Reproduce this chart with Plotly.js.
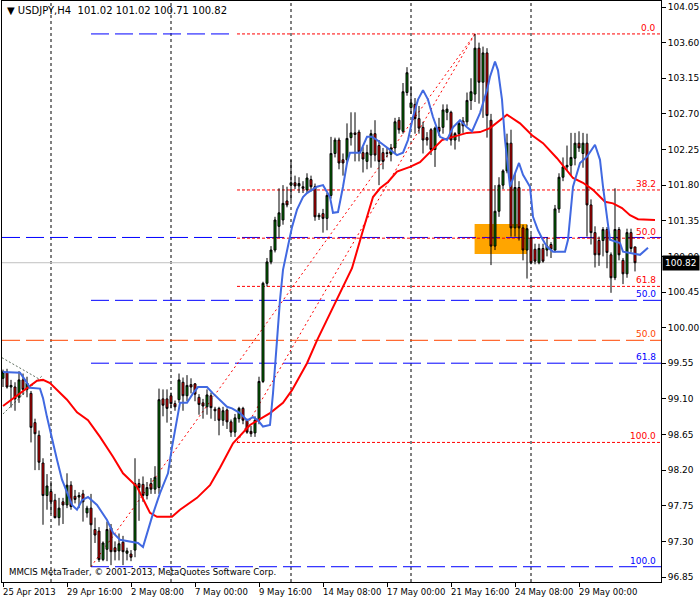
<!DOCTYPE html>
<html><head><meta charset="utf-8">
<script src="https://cdn.plot.ly/plotly-3.0.1.min.js"></script>
<style>html,body{margin:0;padding:0;background:#fff;}#chart{width:700px;height:600px;}</style>
</head><body><div id="chart"></div>
<script>
// ---- candle data (USDJPY H4, bar index 0 = 25 Apr 2013 00:00) ----
const open  = [99.36,99.44,99.25,99.25,99.12,99.34,99.22,99.17,98.80,98.64,98.29,97.88,97.93,97.82,97.60,97.80,97.76,98.01,97.87,97.86,97.90,97.66,97.72,97.45,97.43,97.07,97.20,97.47,97.22,97.18,97.29,97.15,97.14,97.19,98.03,98.02,97.88,98.03,97.96,97.98,99.10,99.10,99.14,99.04,99.09,99.31,99.14,99.28,99.29,99.12,99.05,99.00,99.14,98.97,98.98,98.83,98.96,98.81,98.68,98.85,98.98,98.83,98.69,98.67,98.83,99.32,100.56,100.83,100.98,101.28,101.36,101.60,101.80,101.83,101.79,101.78,101.74,101.87,101.78,101.40,101.44,101.38,101.67,102.20,102.37,102.12,102.12,102.40,102.46,102.47,102.21,102.10,102.18,102.45,102.30,102.21,102.21,102.19,102.27,102.62,102.48,102.97,102.78,102.82,102.64,102.53,102.40,102.50,102.25,102.53,102.53,102.72,102.72,102.37,102.45,102.61,102.60,102.87,102.95,103.53,103.10,103.47,102.62,101.03,101.47,101.80,101.98,102.33,101.26,101.77,101.26,100.98,101.13,100.99,100.82,101.00,100.98,101.05,100.98,101.50,101.90,102.03,102.05,102.14,102.33,102.20,102.33,101.55,101.20,101.10,101.10,101.24,100.92,100.63,101.24,100.85,100.68,101.20,101.02];
const high  = [99.47,99.48,99.34,99.31,99.45,99.42,99.38,99.20,98.85,98.70,98.35,98.15,98.06,97.90,97.85,97.85,98.16,98.06,97.95,97.92,97.95,97.75,97.90,97.60,97.48,97.30,97.55,97.52,97.30,97.40,97.37,97.22,97.19,98.35,98.09,98.12,98.05,98.10,98.25,99.23,99.22,99.22,99.18,99.08,99.42,99.37,99.40,99.36,99.30,99.16,99.10,99.22,99.18,99.00,99.00,99.00,98.98,98.84,98.91,99.00,99.00,98.85,98.76,98.88,99.38,100.58,100.88,101.03,101.40,101.76,101.80,101.78,102.12,101.92,101.90,101.85,101.95,101.92,101.82,101.45,101.50,101.70,102.41,102.40,102.40,102.20,102.58,102.72,102.72,102.50,102.28,102.31,102.50,102.62,102.37,102.27,102.27,102.32,102.65,102.66,103.09,103.29,103.05,102.90,102.80,102.60,102.47,102.52,102.54,102.65,102.82,102.82,102.74,102.47,102.60,102.66,102.97,103.15,103.71,103.60,103.55,103.53,102.70,101.80,101.90,102.00,102.45,102.50,101.95,101.85,101.30,101.30,101.18,101.06,101.06,101.06,101.14,101.08,101.55,101.95,102.15,102.30,102.46,102.46,102.48,102.46,102.45,101.62,101.28,101.15,101.27,101.27,100.95,101.76,101.27,100.88,101.25,101.25,101.02];
const low   = [99.25,99.23,98.99,98.95,99.05,99.15,99.12,98.55,98.20,98.20,97.51,97.70,97.65,97.59,97.50,97.52,97.72,97.70,97.78,97.72,97.55,97.60,96.98,97.28,97.04,97.05,97.05,97.00,97.06,97.06,97.00,97.06,97.05,97.10,97.56,97.80,97.83,97.90,97.90,97.90,98.88,98.80,98.98,98.95,99.05,98.95,99.07,99.17,99.07,98.90,98.85,98.90,98.85,98.82,98.64,98.76,98.72,98.62,98.62,98.80,98.78,98.66,98.62,98.62,98.78,99.30,100.52,100.80,100.95,101.14,101.30,101.52,101.60,101.75,101.70,101.70,101.70,101.72,101.35,101.36,101.20,101.23,101.63,102.15,102.00,101.92,102.07,102.30,102.10,102.10,101.96,102.00,102.02,102.10,101.80,102.00,102.15,102.10,102.20,102.45,102.45,102.93,102.70,102.45,102.45,102.20,102.30,102.18,102.03,102.42,102.45,102.62,102.30,102.25,102.35,102.46,102.55,102.75,102.85,102.83,102.65,102.40,100.79,100.98,101.40,101.75,101.95,101.15,101.15,101.10,100.85,100.62,100.80,100.80,100.80,100.82,100.90,100.88,100.95,101.45,101.85,101.98,101.92,102.05,102.22,102.02,101.15,101.05,100.76,100.78,100.90,100.75,100.44,100.60,100.85,100.55,100.63,100.95,100.71];
const close = [99.44,99.25,99.27,99.10,99.34,99.22,99.30,98.74,98.66,98.30,97.88,98.00,97.80,97.60,97.72,97.76,98.01,97.74,97.83,97.88,97.80,97.72,97.51,97.38,97.07,97.28,97.45,97.17,97.17,97.27,97.17,97.18,97.10,98.03,97.98,97.88,97.98,97.96,98.11,99.09,99.02,98.98,99.04,99.00,99.34,99.14,99.27,99.25,99.16,99.03,99.01,99.15,98.99,98.95,98.83,98.95,98.81,98.68,98.86,98.98,98.83,98.68,98.66,98.83,99.32,100.56,100.83,100.98,101.36,101.45,101.57,101.55,101.83,101.79,101.82,101.76,101.89,101.78,101.40,101.42,101.38,101.67,102.20,102.37,102.08,102.08,102.39,102.46,102.44,102.22,102.13,102.21,102.45,102.18,102.10,102.10,102.20,102.27,102.60,102.50,102.98,103.22,102.84,102.64,102.52,102.37,102.37,102.25,102.52,102.48,102.75,102.76,102.37,102.45,102.58,102.55,102.87,102.98,103.53,103.10,103.47,102.68,101.03,101.47,101.80,101.98,102.33,101.26,101.77,101.26,100.98,101.25,100.82,100.84,101.00,100.84,101.03,100.99,101.50,101.90,102.03,102.05,102.15,102.33,102.27,102.33,101.55,101.20,100.92,100.92,101.24,100.95,100.63,101.24,100.92,100.68,101.20,101.00,100.82];

// ---- moving averages (bar position, price) ----
const maRedX = [0,8.5,10,11.75,16,18.5,21.25,24.25,27.5,30,33.5,36.75,38.5,42.25,44.25,48.5,51.75,54.25,57.5,61.75,66.75,68.75,70,72.25,76,78.5,81,83.5,87.25,90,92.5,94.25,96.25,98.5,101.75,104.25,106.75,109.75,112.5,116,119.25,121.75,126,129.25,132.25,135,138.5,141,142.5,145,147.5,150.5,152.5,154.75,156.75,158.75,163];
const maRedY = [99.01,99.33,99.34,99.30,99.09,98.93,98.83,98.62,98.37,98.16,97.99,97.66,97.61,97.61,97.70,97.85,98.01,98.23,98.54,98.77,98.92,99.00,99.05,99.21,99.55,99.84,100.10,100.35,100.75,101.23,101.65,101.76,101.84,101.97,102.03,102.09,102.22,102.37,102.41,102.46,102.47,102.52,102.69,102.58,102.43,102.33,102.14,101.99,101.89,101.83,101.74,101.59,101.57,101.51,101.42,101.37,101.36];
const maBlueX = [0,4.25,5.5,6.75,9.25,10,11,12.25,13.5,14.75,16,17.25,18.5,19.75,21.25,23.5,26,27.5,29.25,33.75,35,36,37.25,39.25,41.25,42.25,43.5,44.25,46,47.5,48.75,51,52.5,54.25,56,57.25,59.25,61,62.5,63.75,65,66.75,67.5,68.5,69.25,70,71,72.25,73.5,75,76,78.5,80,81.75,82.5,83.75,85,86,86.75,89.25,91,92.25,93.5,96,98.5,100,101.25,102.5,103.75,105,106.25,107.5,109.25,111,112.5,114.25,116,117.25,119.25,121,121.75,123,123.75,124.75,125.5,126.75,128,129,130,131.75,132.5,133.75,134.75,136,137.5,140.5,141.25,142.5,144.25,146,148,149.25,150,151,151.75,154.25,155,159.25,160.5,161.25];
const maBlueY = [99.44,99.43,99.34,99.24,99.23,99.11,98.87,98.58,98.33,98.08,97.91,97.76,97.70,97.82,97.86,97.76,97.57,97.41,97.32,97.28,97.23,97.41,97.61,97.91,98.16,98.49,98.83,99.05,99.05,99.17,99.25,99.25,99.17,99.09,99.00,98.98,98.92,98.83,98.87,98.83,98.75,98.77,99.17,99.84,100.35,100.73,100.98,101.27,101.49,101.65,101.70,101.78,101.80,101.65,101.45,101.46,101.78,102.08,102.21,102.21,102.41,102.41,102.37,102.27,102.18,102.21,102.37,102.66,102.88,103.00,102.88,102.66,102.41,102.37,102.53,102.62,102.53,102.48,102.71,103.00,103.17,103.36,103.25,102.88,102.37,101.78,101.95,102.08,101.93,101.78,101.40,101.23,101.13,101.02,100.96,100.96,101.11,101.78,102.08,102.16,102.31,102.12,101.78,101.40,101.11,101.07,100.96,100.92,100.98,101.01];

// ---- time axis ----
const tickBars   = [0,16,32,48,64,80,96,112,128,144];
const tickLabels = ['25 Apr 2013','29 Apr 16:00','2 May 08:00','7 May 00:00','9 May 16:00','14 May 08:00','17 May 00:00','21 May 16:00','24 May 08:00','29 May 00:00'];
const separatorBars = [12,42,72,102,132];
const priceTicks = [96.85,97.30,97.75,98.20,98.65,99.10,99.55,100.00,100.45,100.90,101.35,101.80,102.25,102.70,103.15,103.60,104.05];

// ---- objects ----
const lastPrice = 100.82;
const fibLevels = [0, 38.2, 50, 61.8, 100];
const blueFibStart = 22, blueFibEnd = 118, blueFibLow = 96.98, blueFibHigh = 103.71;
const redFibStart = 58.5, redFibEnd = 118, redFibLow = 98.55, redFibHigh = 103.71;
const orangeFib50 = 99.84;
const zoneBars = [117.9, 131];
const zonePrices = [100.93, 101.31];
const greyLineA = [[-0.25, 99.62],[9.75, 99.33]];
const greyLineB = [[0.0, 98.91],[9.75, 99.39]];
const titleText = 'USDJPY,H4\u00a0\u00a0101.02 101.02 100.71 100.82';
const copyright = 'MMCIS MetaTrader, © 2001-2013, MetaQuotes Software Corp.';

const X0 = -0.25, X1 = 164.5;
const bars = open.map((_, i) => i);
const FONT = 'DejaVu Sans, Verdana, sans-serif';

const traces = [
  {type:'candlestick', x:bars, open:open, high:high, low:low, close:close,
   increasing:{line:{color:'#000000', width:1}, fillcolor:'#008000'},
   decreasing:{line:{color:'#000000', width:1}, fillcolor:'#ff0000'},
   whiskerwidth:0, hoverinfo:'skip', showlegend:false},
  {type:'scatter', mode:'lines', x:maRedX, y:maRedY, line:{color:'#ff0000', width:2}, hoverinfo:'skip', showlegend:false},
  {type:'scatter', mode:'lines', x:maBlueX, y:maBlueY, line:{color:'#4169e1', width:2}, hoverinfo:'skip', showlegend:false}
];

const shapes = [];
const annotations = [];
function hline(x0, x1, y, color, dash) {
  shapes.push({type:'line', xref:'x', yref:'y', x0:x0, x1:x1, y0:y, y1:y, layer:'below', line:{color:color, width:1, dash:dash}});
}
function label(y, text, color) {
  annotations.push({xref:'paper', yref:'y', x:1, y:y, xshift:-3, yshift:-1, xanchor:'right', yanchor:'bottom', text:text, showarrow:false, font:{family:FONT, size:9, color:color}});
}
// zone
shapes.push({type:'rect', xref:'x', yref:'y', x0:zoneBars[0], x1:zoneBars[1], y0:zonePrices[0], y1:zonePrices[1], layer:'below', fillcolor:'#ffa500', line:{width:0}});
// separators
separatorBars.forEach(b => shapes.push({type:'line', xref:'x', yref:'paper', x0:b, x1:b, y0:0, y1:1, layer:'below', line:{color:'#000000', width:1, dash:'3px,3px'}}));
// current price line
hline(X0, X1, lastPrice, '#c0c0c0', 'solid');
// orange fib 50
hline(X0, X1, orangeFib50, '#ff4500', '18px,6px');
label(orangeFib50, '50.0', '#ff4500');
// blue fib
fibLevels.forEach(l => {
  const y = blueFibHigh - (blueFibHigh - blueFibLow) * l / 100;
  let x0 = blueFibStart, x1 = X1;
  if (l === 0) x1 = 56.5;
  if (l === 38.2) x0 = X0;
  hline(x0, x1, y, '#0000ff', '18px,6px');
  if (l >= 50) label(y, l.toFixed(1), '#0000ff');
});
// red fib
fibLevels.forEach(l => {
  const y = redFibHigh - (redFibHigh - redFibLow) * l / 100;
  hline(redFibStart, X1, y, '#ff0000', '3px,2px');
  label(y, l.toFixed(1), '#ff0000');
});
// fib trend lines
shapes.push({type:'line', xref:'x', yref:'y', x0:blueFibStart, y0:blueFibLow, x1:blueFibEnd, y1:blueFibHigh, layer:'below', line:{color:'#ff0000', width:1, dash:'2px,3px'}});
shapes.push({type:'line', xref:'x', yref:'y', x0:redFibStart, y0:redFibLow, x1:redFibEnd, y1:redFibHigh, layer:'below', line:{color:'#ff0000', width:1, dash:'2px,3px'}});
// grey dotted lines
[greyLineA, greyLineB].forEach(p => shapes.push({type:'line', xref:'x', yref:'y', x0:p[0][0], y0:p[0][1], x1:p[1][0], y1:p[1][1], layer:'below', line:{color:'#5f6f5f', width:1, dash:'2px,2px'}}));

// x tick labels (left aligned like MetaTrader)
tickBars.forEach((b, i) => annotations.push({xref:'x', yref:'paper', x:b, y:0, xanchor:'left', yanchor:'top', xshift:-2, yshift:-3, text:tickLabels[i], showarrow:false, font:{family:FONT, size:8.5, color:'#000'}}));
// title & copyright
annotations.push({xref:'paper', yref:'paper', x:0, y:1, xanchor:'left', yanchor:'top', xshift:3, yshift:-2, text:'\u25BC ' + titleText, showarrow:false, font:{family:FONT, size:10, color:'#000'}});
annotations.push({xref:'paper', yref:'paper', x:0, y:0, xanchor:'left', yanchor:'bottom', xshift:5, yshift:3, text:copyright, showarrow:false, font:{family:FONT, size:8.6, color:'#000'}});
// price box
annotations.push({xref:'paper', yref:'y', x:1, y:lastPrice, xanchor:'left', yanchor:'middle', xshift:1, text:lastPrice.toFixed(2), showarrow:false, bgcolor:'#000000', borderpad:2, font:{family:FONT, size:9, color:'#ffffff'}});

const layout = {
  width:700, height:600,
  margin:{l:2, r:39, t:1, b:18, pad:0},
  paper_bgcolor:'#ffffff', plot_bgcolor:'#ffffff',
  showlegend:false, boxgap:0.3,
  xaxis:{range:[X0, X1], rangeslider:{visible:false}, showgrid:false, zeroline:false, showline:true, mirror:true, linecolor:'#000', linewidth:1,
         tickmode:'array', tickvals:tickBars, ticktext:tickLabels, showticklabels:false, ticks:'outside', ticklen:4, tickcolor:'#000'},
  yaxis:{range:[96.787, 104.126], side:'right', showgrid:false, zeroline:false, showline:true, mirror:true, linecolor:'#000', linewidth:1,
         tickmode:'array', tickvals:priceTicks, ticktext:priceTicks.map(v => v.toFixed(2)), ticks:'outside', ticklen:4, tickcolor:'#000',
         tickfont:{family:FONT, size:9, color:'#000'}},
  shapes:shapes, annotations:annotations,
  font:{family:FONT}
};
Plotly.newPlot('chart', traces, layout, {staticPlot:true, displayModeBar:false});
</script></body></html>
